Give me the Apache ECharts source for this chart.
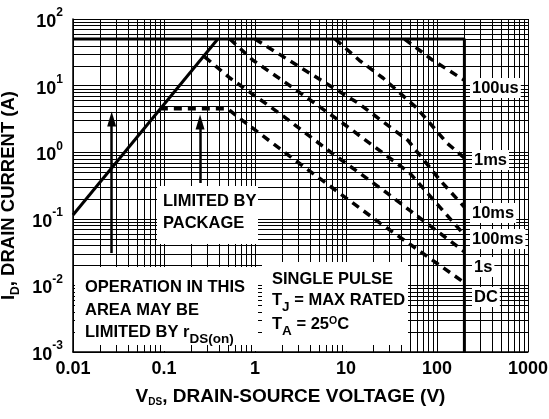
<!DOCTYPE html>
<html>
<head>
<meta charset="utf-8">
<script src="https://cdn.jsdelivr.net/npm/echarts@6/dist/echarts.min.js"></script>
<style>
    html, body { margin: 0; padding: 0; background: #fff; }
    #main { width: 549px; height: 419px; }
</style>
</head>
<body>
<div id="main"></div>
<script>
// 数据：每个点 [V_DS (V), I_D (A)]
const rdsLimit   = [[0.01, 0.114], [0.39, 50]];
const maxLimit   = [[0.01, 50], [200, 50], [200, 0.001]];
const curve100us = [[44, 50], [90, 24], [200, 12]];
const curve1ms   = [[7.6, 50], [14, 24], [25.5, 13], [60, 4.6], [129, 1.37], [200, 0.82]];
const curve10ms  = [[1, 50], [3.8, 16], [13.5, 5.5], [48, 1.5], [108, 0.38], [200, 0.15]];
const curve100ms = [[0.53, 50], [0.95, 24], [2.55, 9.5], [9.8, 2.56], [50, 0.49], [200, 0.057]];
const curve1s    = [[0.28, 27], [0.53, 13], [1.98, 3.6], [7, 0.97], [25.5, 0.27], [200, 0.032]];
const curveDC    = [[0.09, 4.5], [0.5, 4.5], [0.72, 3.04], [2.55, 0.82], [9.8, 0.21], [23.7, 0.086], [95, 0.0225], [200, 0.011]];

// 箭头 (起点, 终点)
const arrowRds     = [[0.0266, 0.0306], [0.0266, 3.15]];
const arrowPackage = [[0.249, 0.345], [0.249, 2.84]];

// 刻度
const xTickLabels = ['0.01', '0.1', '1', '10', '100', '1000'];
const yTickExps   = ['-3', '-2', '-1', '0', '1', '2'];
const xDecades = [0.01, 0.1, 1, 10, 100];
const yDecades = [0.001, 0.01, 0.1, 1, 10];

const FONT = '"Liberation Sans", Arial, sans-serif';

// 次网格线 (2..9 每个十倍程)
let gridItems = [];
xDecades.forEach(d => { for (let m = 2; m <= 9; m++) gridItems.push([d * m, 1, 0]); });
yDecades.forEach(d => { for (let m = 2; m <= 9; m++) gridItems.push([1, d * m, 1]); });
let tickItems = gridItems.filter(it => it[2] === 0);

function renderGrid(params, api) {
    let p1, p2;
    if (api.value(2) === 0) {
        p1 = api.coord([api.value(0), 100]);
        p2 = api.coord([api.value(0), 0.001]);
        let x = Math.round(p1[0]) + 0.5;
        return { type: 'line', shape: { x1: x, y1: p1[1], x2: x, y2: p2[1] }, style: { stroke: '#000', lineWidth: 1 } };
    }
    p1 = api.coord([0.01, api.value(1)]);
    p2 = api.coord([1000, api.value(1)]);
    let y = Math.round(p1[1]) + 0.5;
    return { type: 'line', shape: { x1: p1[0], y1: y, x2: p2[0], y2: y }, style: { stroke: '#000', lineWidth: 1 } };
}
function renderTick(params, api) {
    let p = api.coord([api.value(0), 0.001]);
    let x = Math.round(p[0]) + 0.5;
    return { type: 'line', shape: { x1: x, y1: p[1], x2: x, y2: p[1] - 7 }, style: { stroke: '#000', lineWidth: 1 } };
}

function solid(name, data) {
    return { name: name, type: 'line', data: data, z: 5, symbol: 'none', silent: true,
        lineStyle: { color: '#000', width: 3 } };
}
function dashed(name, data) {
    return { name: name, type: 'line', data: data, z: 5, symbol: 'none', silent: true,
        lineStyle: { color: '#000', width: 3.5, type: [8, 6] } };
}
function arrow(name, data) {
    return { name: name, type: 'line', data: [], z: 5, silent: true,
        markLine: {
            silent: true, animation: false, z: 6,
            symbol: ['none', 'triangle'], symbolSize: [9, 15],
            label: { show: false },
            lineStyle: { color: '#000', width: 2.5, type: 'solid' },
            data: [[{ coord: data[0] }, { coord: data[1] }]]
        } };
}

function txt(x, y, text, rich) {
    return { type: 'text', z: 20, x: x, y: y,
        style: { text: text, fill: '#000', font: 'bold 16.5px ' + FONT, verticalAlign: 'middle', rich: rich || {} } };
}
function tag(x, y, text) {
    return { type: 'text', z: 20, x: x, y: y,
        style: { text: text, fill: '#000', font: 'bold 16.5px ' + FONT, verticalAlign: 'middle',
            backgroundColor: '#fff', padding: [2, 2, 1, 2] } };
}
function box(x, y, w, h) {
    return { type: 'rect', z: 3, shape: { x: x, y: y, width: w, height: h }, style: { fill: '#fff' } };
}

const subRich = {
    t: { fontSize: 16.5, fontWeight: 'bold', fontFamily: FONT, lineHeight: 22, verticalAlign: 'top' },
    s: { fontSize: 13.5, fontWeight: 'bold', fontFamily: FONT, lineHeight: 13, padding: [8, 0, 0, 0], verticalAlign: 'bottom' },
    u: { fontSize: 10.5, fontWeight: 'bold', fontFamily: FONT, lineHeight: 10, verticalAlign: 'top' }
};

let myChart = echarts.init(document.getElementById('main'));
let option = {
    animation: false,
    backgroundColor: '#fff',
    textStyle: { fontFamily: FONT },
    grid: { left: 73, right: 21, top: 19, bottom: 67, containLabel: false, outerBoundsMode: 'none' },
    xAxis: {
        type: 'log', logBase: 10, min: 0.01, max: 1000,
        name: '{v|V}{d|DS}{v|, DRAIN-SOURCE VOLTAGE (V)}',
        nameLocation: 'middle', nameGap: 30,
        nameTextStyle: {
            padding: [0, 20, 0, 0],
            rich: {
                v: { fontSize: 19, fontWeight: 'bold', fontFamily: FONT, lineHeight: 20, verticalAlign: 'top' },
                d: { fontSize: 10, fontWeight: 'bold', fontFamily: FONT, lineHeight: 10, padding: [14, 0, 0, 0], verticalAlign: 'bottom' }
            }
        },
        axisLine: { show: true, lineStyle: { color: '#000', width: 1.5 } },
        axisTick: { show: false },
        splitLine: { show: true, lineStyle: { color: '#000', width: 1 } },
        axisLabel: {
            margin: 8, color: '#000', fontSize: 18, fontWeight: 'bold', fontFamily: FONT,
            formatter: function (value) {
                return xTickLabels[Math.round(Math.log10(value)) + 2];
            }
        }
    },
    yAxis: {
        type: 'log', logBase: 10, min: 0.001, max: 100,
        name: '{i|I}{d|D}{i|, DRAIN CURRENT (A)}',
        nameLocation: 'middle', nameGap: 39, nameRotate: 90,
        nameTextStyle: {
            padding: [0, 20, 0, 0],
            rich: {
                i: { fontSize: 18.5, fontWeight: 'bold', fontFamily: FONT, lineHeight: 22, verticalAlign: 'top' },
                d: { fontSize: 12, fontWeight: 'bold', fontFamily: FONT, lineHeight: 12, padding: [14, 0, 0, 0], verticalAlign: 'bottom' }
            }
        },
        axisLine: { show: true, lineStyle: { color: '#000', width: 1.5 } },
        axisTick: { show: false },
        splitLine: { show: true, lineStyle: { color: '#000', width: 1 } },
        axisLabel: {
            margin: 10, color: '#000',
            formatter: function (value) {
                return '{b|10}{s|' + yTickExps[Math.round(Math.log10(value)) + 3] + '}';
            },
            rich: {
                b: { fontSize: 18, fontWeight: 'bold', fontFamily: FONT, lineHeight: 24, verticalAlign: 'bottom' },
                s: { fontSize: 12, fontWeight: 'bold', fontFamily: FONT, lineHeight: 12, verticalAlign: 'top' }
            }
        }
    },
    series: [
        { type: 'custom', name: 'grid', data: gridItems, renderItem: renderGrid, z: 1, silent: true, clip: false },
        { type: 'custom', name: 'ticks', data: tickItems, renderItem: renderTick, z: 4, silent: true, clip: false },
        solid('rds', rdsLimit),
        solid('max', maxLimit),
        dashed('100us', curve100us),
        dashed('1ms', curve1ms),
        dashed('10ms', curve10ms),
        dashed('100ms', curve100ms),
        dashed('1s', curve1s),
        dashed('DC', curveDC),
        arrow('arrowRds', arrowRds),
        arrow('arrowPackage', arrowPackage)
    ],
    graphic: [
        box(157, 186, 101, 58),
        box(75, 267, 183, 84),
        box(262, 262, 146, 89),
        txt(163, 201, 'LIMITED BY'),
        txt(163, 223, 'PACKAGE'),
        txt(85, 287, 'OPERATION IN THIS'),
        txt(85, 310, 'AREA MAY BE'),
        txt(85, 335, '{t|LIMITED BY r}{s|DS(on)}', subRich),
        txt(272, 279, 'SINGLE PULSE'),
        txt(272, 303, '{t|T}{s|J}{t| = MAX RATED}', subRich),
        txt(272, 327, '{t|T}{s|A}{t| = 25}{u|O}{t|C}', subRich),
        tag(470, 88, '100us'),
        tag(472, 160, '1ms'),
        tag(470, 213, '10ms'),
        tag(470, 239, '100ms'),
        tag(472, 267, '1s'),
        tag(472, 297, 'DC')
    ]
};
myChart.setOption(option);
</script>
</body>
</html>
